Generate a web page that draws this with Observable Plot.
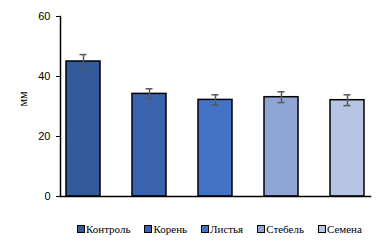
<!DOCTYPE html>
<html><head><meta charset="utf-8">
<script src="https://cdn.jsdelivr.net/npm/d3@7"></script>
<script src="https://cdn.jsdelivr.net/npm/@observablehq/plot@0.6"></script>
<style>
body{margin:0;background:#fff;width:384px;height:243px;overflow:hidden}
#legend{display:flex;gap:14px;padding-left:77px;padding-top:7px;font-family:"Liberation Serif","Times New Roman","DejaVu Serif",serif;font-size:11px;color:#000;align-items:center;height:20px}
#legend span.item{display:flex;align-items:center;white-space:nowrap}
#legend span.sw{display:inline-block;width:6px;height:6px;border:1px solid #000;margin-right:1px}
</style></head>
<body><div id="chart"></div><div id="legend"></div>
<script>
const categories = ["Контроль", "Корень", "Листья", "Стебель", "Семена"];
const values = [45.0, 34.2, 32.2, 33.1, 32.1];
const errors = [2.3, 1.7, 1.7, 1.8, 1.8];
const colors = ["#335A9A", "#3A63AD", "#4472C4", "#8FA5D6", "#B8C4E4"];
const yTicks = [0, 20, 40, 60];
const yLabel = "мм";

const data = categories.map((c, i) => ({c, v: values[i], e: errors[i]}));

const plot = Plot.plot({
  width: 384, height: 212,
  marginLeft: 60, marginRight: 14, marginTop: 16, marginBottom: 16,
  style: {fontFamily: "Liberation Sans, sans-serif", fontSize: "11px", color: "#000", background: "#fff"},
  x: {domain: categories, paddingInner: 0.485, paddingOuter: 0.09, axis: null},
  y: {domain: [0, 60], ticks: yTicks, tickSize: 4, tickPadding: 6, label: null},
  color: {domain: categories, range: colors},
  marks: [
    Plot.barY(data, {x: "c", y: "v", fill: "c", stroke: "#000", strokeWidth: 1.5}),
    Plot.ruleX(data, {x: "c", y1: d => d.v - d.e, y2: d => d.v + d.e, stroke: "#595959", strokeWidth: 1.5}),
    Plot.tickY(data, {x: "c", y: d => d.v - d.e, stroke: "#595959", strokeWidth: 1.5, insetLeft: 13.5, insetRight: 13.5}),
    Plot.tickY(data, {x: "c", y: d => d.v + d.e, stroke: "#595959", strokeWidth: 1.5, insetLeft: 13.5, insetRight: 13.5}),
    Plot.frame({anchor: "left", stroke: "#000", strokeWidth: 1.5}),
    Plot.frame({anchor: "bottom", stroke: "#000", strokeWidth: 1.5}),
    Plot.axisY({ticks: yTicks, tickSize: 4, tickPadding: 6, label: null, stroke: "#000"}),
    Plot.text([yLabel], {frameAnchor: "left", dx: -37, rotate: -90, fontFamily: "'Liberation Serif', 'DejaVu Serif', serif", fontSize: 12})
  ]
});
document.getElementById("chart").appendChild(plot);

const leg = document.getElementById("legend");
categories.forEach((c, i) => {
  const it = document.createElement("span"); it.className = "item";
  const sw = document.createElement("span"); sw.className = "sw"; sw.style.background = colors[i];
  it.appendChild(sw); it.appendChild(document.createTextNode(c));
  leg.appendChild(it);
});
</script></body></html>
